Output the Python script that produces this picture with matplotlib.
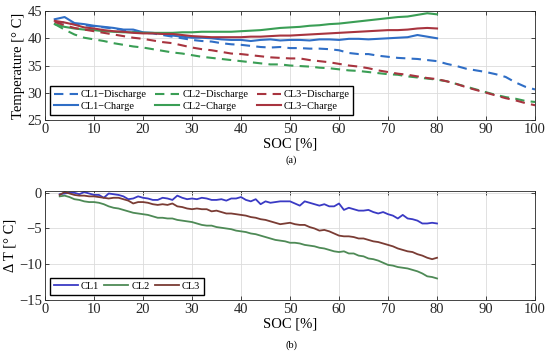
import numpy as np
import matplotlib
matplotlib.use("Agg")
import matplotlib.pyplot as plt

plt.rcParams['font.family'] = ['Liberation Serif', 'DejaVu Serif']
plt.rcParams['mathtext.fontset'] = 'stix'

# ---- data (a): temperature vs SOC ----
soc_dis = np.arange(2, 101, 2)
cl1_dis = [43.0, 42.9, 42.6, 42.4, 42.2, 42.0, 41.8, 41.5, 41.2, 41.0,
           40.9, 40.6, 40.3, 40.0, 39.7, 39.5, 39.4, 39.1, 38.9, 38.8,
           38.6, 38.4, 38.3, 38.4, 38.2, 38.2, 38.1, 38.1, 38.0, 37.8,
           37.3, 37.1, 37.1, 36.8, 36.6, 36.4, 36.3, 36.2, 36.0, 35.8,
           35.3, 34.9, 34.4, 34.1, 33.8, 33.4, 32.9, 31.9, 31.1, 30.6]
cl2_dis = [42.6, 41.6, 40.7, 40.1, 39.8, 39.5, 39.1, 38.8, 38.5, 38.3,
           38.0, 37.7, 37.4, 37.2, 36.9, 36.6, 36.4, 36.2, 36.0, 35.8,
           35.6, 35.4, 35.2, 35.2, 35.0, 34.9, 34.8, 34.6, 34.5, 34.3,
           34.1, 34.0, 33.8, 33.6, 33.4, 33.3, 33.0, 32.8, 32.6, 32.4,
           32.1, 31.6, 31.1, 30.6, 30.1, 29.6, 29.2, 28.9, 28.5, 28.3]
cl3_dis = [43.0, 42.4, 41.9, 41.6, 41.3, 41.0, 40.7, 40.4, 40.1, 39.9,
           39.6, 39.3, 39.1, 38.7, 38.3, 38.0, 37.8, 37.5, 37.2, 37.1,
           36.9, 36.7, 36.5, 36.4, 36.3, 36.3, 36.0, 35.8, 35.6, 35.3,
           35.0, 34.8, 34.5, 34.1, 33.8, 33.5, 33.3, 33.0, 32.7, 32.5,
           32.1, 31.6, 31.0, 30.5, 30.0, 29.5, 29.0, 28.6, 28.1, 27.7]

soc_chg = np.arange(2, 81, 2)
cl1_chg = [43.5, 43.9, 42.8, 42.6, 42.3, 42.1, 41.9, 41.6, 41.6, 41.1,
           41.0, 40.8, 40.5, 40.3, 40.1, 40.1, 40.0, 39.8, 39.7, 39.7,
           39.5, 39.7, 39.8, 39.6, 39.7, 39.7, 39.6, 39.8, 39.8, 39.7,
           39.9, 39.9, 39.8, 39.9, 40.0, 40.1, 40.2, 40.6, 40.3, 40.0]
cl2_chg = [42.6, 42.1, 41.8, 41.6, 41.5, 41.3, 41.2, 41.1, 41.1, 41.0,
           41.0, 41.0, 41.0, 41.1, 41.1, 41.2, 41.2, 41.2, 41.2, 41.3,
           41.4, 41.5, 41.7, 41.9, 42.0, 42.1, 42.3, 42.4, 42.6, 42.7,
           42.9, 43.1, 43.3, 43.5, 43.7, 43.9, 44.0, 44.3, 44.6, 44.4]
cl3_chg = [43.2, 42.9, 42.5, 42.0, 41.8, 41.5, 41.3, 41.2, 41.0, 40.9,
           40.9, 40.8, 40.8, 40.6, 40.4, 40.3, 40.2, 40.2, 40.2, 40.2,
           40.3, 40.3, 40.4, 40.5, 40.5, 40.6, 40.7, 40.8, 40.9, 41.0,
           41.1, 41.2, 41.3, 41.4, 41.5, 41.5, 41.6, 41.8, 41.9, 41.8]

# ---- data (b): delta T vs SOC ----
soc_dt = np.arange(3, 81, 1)
dt_cl1 = [-0.2, -0.1, 0.0, 0.0, -0.2, 0.1, -0.1, -0.3, -0.3, -0.7,
          -0.1, -0.2, -0.3, -0.5, -0.9, -0.8, -0.5, -0.7, -0.8, -1.0,
          -1.0, -0.7, -0.8, -1.0, -0.4, -0.7, -0.9, -0.8, -0.9, -0.7,
          -0.8, -1.0, -1.0, -0.9, -1.1, -0.8, -0.8, -0.6, -1.0, -1.2,
          -0.9, -1.6, -1.2, -1.4, -1.3, -1.2, -1.2, -1.2, -1.5, -1.8,
          -1.2, -1.4, -1.6, -1.8, -1.6, -1.9, -1.9, -1.5, -2.4, -2.1,
          -2.3, -2.5, -2.5, -2.4, -2.7, -2.9, -2.7, -3.0, -3.2, -3.6,
          -3.1, -3.6, -3.7, -3.9, -4.3, -4.3, -4.2, -4.3]
dt_cl2 = [-0.5, -0.4, -0.6, -0.9, -1.0, -1.2, -1.3, -1.3, -1.4, -1.6,
          -1.9, -2.1, -2.2, -2.4, -2.6, -2.8, -2.9, -3.0, -3.1, -3.3,
          -3.5, -3.5, -3.6, -3.6, -3.8, -3.9, -4.0, -4.1, -4.3, -4.5,
          -4.6, -4.6, -4.8, -4.9, -5.0, -5.1, -5.3, -5.4, -5.5, -5.7,
          -5.8, -6.0, -6.2, -6.4, -6.6, -6.7, -6.8, -7.0, -7.0, -7.1,
          -7.3, -7.4, -7.5, -7.7, -7.8, -8.0, -8.2, -8.3, -8.2, -8.5,
          -8.5, -8.8, -8.9, -9.2, -9.3, -9.5, -9.8, -10.1, -10.2, -10.4,
          -10.5, -10.6, -10.8, -11.0, -11.3, -11.7, -11.8, -12.0]
dt_cl3 = [-0.3, 0.1, -0.1, -0.3, -0.4, -0.4, -0.5, -0.5, -0.6, -0.7,
          -0.8, -0.7, -0.7, -0.9, -1.1, -1.5, -1.3, -1.3, -1.4, -1.6,
          -1.7, -1.6, -1.7, -1.5, -1.9, -2.0, -2.2, -2.3, -2.2, -2.3,
          -2.3, -2.6, -2.5, -2.7, -2.9, -2.9, -3.0, -3.1, -3.2, -3.4,
          -3.5, -3.7, -3.8, -4.0, -4.2, -4.4, -4.3, -4.2, -4.4, -4.5,
          -4.5, -4.8, -5.0, -5.3, -5.2, -5.4, -5.7, -6.0, -6.1, -6.1,
          -6.2, -6.4, -6.4, -6.6, -6.8, -6.9, -7.1, -7.3, -7.5, -7.8,
          -8.0, -8.2, -8.3, -8.6, -8.8, -9.1, -9.3, -9.1]

c_blue, c_green, c_red = '#2f6ec6', '#3a9e55', '#a8343f'
d_blue, d_green, d_brown = '#3a3ac4', '#4e8a56', '#7a3c34'

fig = plt.figure(figsize=(5.5, 3.57), dpi=100)
ax1 = fig.add_axes([0.0818, 0.664, 0.891, 0.305])
ax2 = fig.add_axes([0.0818, 0.160, 0.891, 0.305])

dash = (0, (4.5, 3))
ax1.plot(soc_dis, cl1_dis, color=c_blue, ls=dash, lw=1.5, label='CL1\u2212Discharge')
ax1.plot(soc_chg, cl1_chg, color=c_blue, lw=1.5, label='CL1\u2212Charge')
ax1.plot(soc_dis, cl2_dis, color=c_green, ls=dash, lw=1.5, label='CL2\u2212Discharge')
ax1.plot(soc_chg, cl2_chg, color=c_green, lw=1.5, label='CL2\u2212Charge')
ax1.plot(soc_dis, cl3_dis, color=c_red, ls=dash, lw=1.5, label='CL3\u2212Discharge')
ax1.plot(soc_chg, cl3_chg, color=c_red, lw=1.5, label='CL3\u2212Charge')
ax1.set_xlim(0, 100)
ax1.set_ylim(25, 45)
ax1.set_yticks([25, 30, 35, 40, 45])
ax1.set_ylabel('Temperature [\u00b0 C]', fontsize=10.5, labelpad=2)
ax1.set_xlabel('SOC [%]', fontsize=10.5, labelpad=1)
ax1.legend(loc='lower left', ncol=3, fontsize=7.5, frameon=True, fancybox=False,
           edgecolor='black', handlelength=2.3, handletextpad=0.3,
           columnspacing=0.8, borderpad=0.35, labelspacing=0.25,
           borderaxespad=0.5, framealpha=1)
fig.text(0.53, 0.545, '(a)', ha='center', fontsize=7.5)

ax2.plot(soc_dt, dt_cl1, color=d_blue, lw=1.3, label='CL1')
ax2.plot(soc_dt, dt_cl2, color=d_green, lw=1.3, label='CL2')
ax2.plot(soc_dt, dt_cl3, color=d_brown, lw=1.3, label='CL3')
ax2.set_xlim(0, 100)
ax2.set_ylim(-15, 0.25)
ax2.set_yticks([-15, -10, -5, 0])
ax2.set_ylabel('\u0394 T [\u00b0 C]', fontsize=10.5, labelpad=2)
ax2.set_xlabel('SOC [%]', fontsize=10.5, labelpad=1)
ax2.legend(loc='lower left', ncol=3, fontsize=7.5, frameon=True, fancybox=False,
           edgecolor='black', handlelength=2.3, handletextpad=0.3,
           columnspacing=0.5, borderpad=0.35, borderaxespad=0.5, framealpha=1)
fig.text(0.53, 0.025, '(b)', ha='center', fontsize=7.5)

for ax in (ax1, ax2):
    ax.set_xticks(range(0, 101, 10))
    ax.grid(True, color='#dcdcdc', lw=0.6)
    ax.set_axisbelow(True)
    ax.tick_params(direction='in', labelsize=10.5, length=3, width=0.6,
                   colors='#262626', pad=2)
    ax.tick_params(top=True, right=True, labeltop=False, labelright=False)
    for s in ax.spines.values():
        s.set_color('#262626')
        s.set_linewidth(0.6)

fig.savefig('out.png', dpi=100)
